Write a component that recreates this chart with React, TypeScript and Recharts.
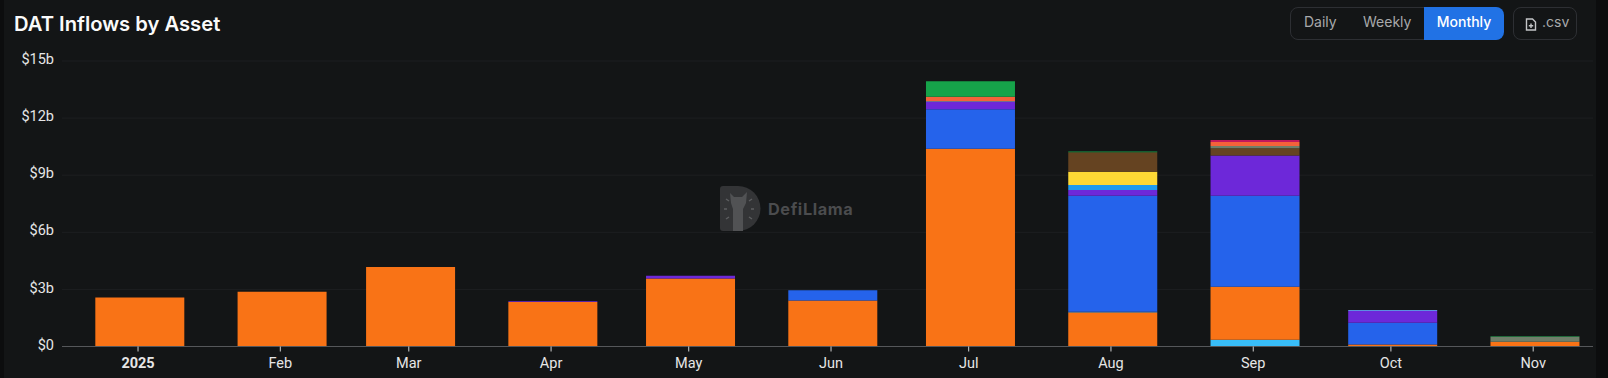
import { BarChart, Bar, XAxis, YAxis, CartesianGrid } from 'recharts'

const months = ['2025', 'Feb', 'Mar', 'Apr', 'May', 'Jun', 'Jul', 'Aug', 'Sep', 'Oct', 'Nov']
const dates = months.map((_, i) => Date.UTC(2025, i, 1))
const yTicks = [0, 3, 6, 9, 12, 15]

// values in $b, bottom of the stack first
const cyan = [0, 0, 0, 0, 0, 0, 0, 0, 0.36, 0, 0]
const btc = [2.58, 2.88, 4.18, 2.34, 3.57, 2.42, 10.39, 1.77, 2.78, 0.11, 0.25]
const hairline = [0, 0, 0, 0, 0, 0, 0, 0.05, 0, 0, 0]
const eth = [0, 0, 0, 0, 0, 0.53, 2.08, 6.1, 4.78, 1.14, 0]
const sol = [0, 0, 0, 0.04, 0.15, 0, 0.37, 0.3, 2.12, 0.62, 0]
const sky = [0, 0, 0, 0, 0, 0, 0, 0.26, 0, 0, 0]
const pale = [0, 0, 0, 0, 0, 0, 0.05, 0, 0, 0.05, 0]
const yellow = [0, 0, 0, 0, 0, 0, 0, 0.7, 0, 0, 0]
const brown = [0, 0, 0, 0, 0, 0, 0, 1.02, 0.37, 0, 0]
const grey = [0, 0, 0, 0, 0, 0, 0, 0, 0.12, 0, 0.26]
const salmon = [0, 0, 0, 0, 0, 0, 0.23, 0, 0.22, 0, 0]
const crimson = [0, 0, 0, 0, 0, 0, 0, 0, 0.1, 0, 0]
const green = [0, 0, 0, 0, 0, 0, 0.81, 0.05, 0, 0, 0.03]

const series = [
  { key: 'cyan', values: cyan, color: '#38bdf8' },
  { key: 'btc', values: btc, color: '#f97316' },
  { key: 'hairline', values: hairline, color: '#8a8a8a' },
  { key: 'eth', values: eth, color: '#2563eb' },
  { key: 'sol', values: sol, color: '#6d28d9' },
  { key: 'sky', values: sky, color: '#1d9bf0' },
  { key: 'pale', values: pale, color: '#5b8fe0' },
  { key: 'yellow', values: yellow, color: '#fdd835' },
  { key: 'brown', values: brown, color: '#654321' },
  { key: 'grey', values: grey, color: '#6f7f6a' },
  { key: 'salmon', values: salmon, color: '#f4623a' },
  { key: 'crimson', values: crimson, color: '#c2185b' },
  { key: 'green', values: green, color: '#16a34a' },
]

const data = dates.map((date, i) => {
  const row: Record<string, number> = { date }
  series.forEach(s => { row[s.key] = s.values[i] })
  return row
})

const DAY = 86400000
// the axis ticks sit a touch left of the bar centres in the original
const tickDates = dates.map(d => d - DAY / 3)

function MonthTick({ x, y, payload, index }: any) {
  return (
    <text x={x} y={y + 14} textAnchor="middle" fontSize={14.5} fill="#e6e6e6" fontWeight={index === 0 ? 700 : 400}>
      {months[index] ?? payload.value}
    </text>
  )
}

function Watermark() {
  return (
    <div style={{ position: 'absolute', left: 720, top: 186, display: 'flex', alignItems: 'center', gap: 7 }}>
      <svg width={41} height={45} viewBox="0 0 41 45">
        <path d="M3 0 H18 A22 22 0 0 1 18 45 H3 Q0 45 0 42 V3 Q0 0 3 0 Z" fill="#333436" />
        <path d="M10 7 L14 11 H22 L27 6 L26 17 L23 23 V45 H13 V23 L11 17 Z" fill="#515254" />
        <path d="M6 13 L9 15 M4 23 H7 M6 33 L9 31 M32 13 L29 15 M34 23 H31 M32 33 L29 31" stroke="#5d5e60" strokeWidth={1.5} />
      </svg>
      <span style={{ fontFamily: 'Inter, sans-serif', fontWeight: 700, fontSize: 16.3, color: '#4b4c4e', letterSpacing: 0.6 }}>DefiLlama</span>
    </div>
  )
}

export default function App() {
  return (
    <div style={{ position: 'absolute', left: 0, top: 0, width: 1608, height: 378, background: '#0c0d0e', overflow: 'hidden', fontFamily: 'Roboto, "Open Sans", sans-serif' }}>
      <div style={{ position: 'absolute', left: 4, top: 0, width: 1592, height: 378, background: '#131516' }} />
      <div style={{ position: 'absolute', left: 14, top: 11, fontFamily: 'Inter, sans-serif', fontSize: 20.2, fontWeight: 600, color: '#fafafa' }}>DAT Inflows by Asset</div>

      <div style={{ position: 'absolute', left: 1290, top: 7, width: 213, height: 33, boxSizing: 'border-box', border: '1px solid #2d2f33', borderRadius: 8, fontFamily: 'Inter, sans-serif', fontSize: 14, color: '#a8a9ab' }}>
        <span style={{ position: 'absolute', left: 13, top: 5 }}>Daily</span>
        <span style={{ position: 'absolute', left: 72, top: 5 }}>Weekly</span>
        <div style={{ position: 'absolute', left: 133, top: -1, width: 80, height: 33, background: '#2172e5', borderRadius: '0 8px 8px 0', color: '#fff', fontWeight: 500, textAlign: 'center', lineHeight: '29px' }}>Monthly</div>
      </div>
      <div style={{ position: 'absolute', left: 1513, top: 7, width: 64, height: 33, boxSizing: 'border-box', border: '1px solid #2d2f33', borderRadius: 8, fontFamily: 'Inter, sans-serif', fontSize: 14, color: '#a8a9ab' }}>
        <svg width={12} height={13} viewBox="0 0 12 13" style={{ position: 'absolute', left: 11, top: 10 }}>
          <path d="M1.5 1 H7.5 L10.5 4 V12 H1.5 Z" fill="none" stroke="#c4c5c7" strokeWidth={1.4} />
          <path d="M6 5.5 V10 M3.8 7.8 H8.2" stroke="#c4c5c7" strokeWidth={1.4} />
        </svg>
        <span style={{ position: 'absolute', left: 28, top: 5 }}>.csv</span>
      </div>

      <Watermark />

      <div style={{ position: 'absolute', left: 0, top: 0 }}>
        <BarChart width={1608} height={378} data={data} margin={{ top: 61, right: 15, bottom: 0, left: 0 }}>
          <CartesianGrid horizontal vertical={false} stroke="#1d1f21" />
          <XAxis
            dataKey="date"
            type="number"
            scale="linear"
            height={31.5}
            domain={[dates[0] - 16.9 * DAY, dates[0] + 316.7 * DAY]}
            ticks={tickDates}
            interval={0}
            tick={<MonthTick />}
            tickSize={5}
            tickLine={{ stroke: '#d0d0d0' }}
            axisLine={{ stroke: '#55575a' }}
            allowDataOverflow
          />
          <YAxis
            type="number"
            width={62}
            domain={[0, 15]}
            ticks={yTicks}
            interval={0}
            tickFormatter={v => (v === 0 ? '$0' : `$${v}b`)}
            tick={{ fontSize: 14.5, fill: '#e6e6e6', dy: -2 }}
            tickLine={false}
            axisLine={false}
            tickMargin={2}
          />
          {series.map(s => (
            <Bar key={s.key} dataKey={s.key} stackId="a" fill={s.color} barSize={89} isAnimationActive={false} />
          ))}
        </BarChart>
      </div>
    </div>
  )
}
